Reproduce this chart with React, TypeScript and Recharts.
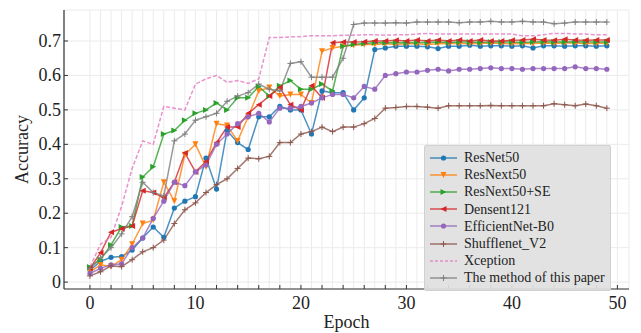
import React from 'react';
import { LineChart, Line, XAxis, YAxis, CartesianGrid, Legend } from 'recharts';

const epochs = Array.from({ length: 50 }, (_, i) => i);

const resnet50 = [
  0.035, 0.06, 0.072, 0.074, 0.093, 0.128, 0.16, 0.13, 0.215, 0.235,
  0.248, 0.36, 0.27, 0.44, 0.405, 0.385, 0.48, 0.48, 0.51, 0.5,
  0.5, 0.43, 0.555, 0.55, 0.55, 0.5, 0.535, 0.675, 0.68, 0.685,
  0.685, 0.685, 0.683, 0.678, 0.685, 0.685, 0.688, 0.685, 0.686, 0.686,
  0.685, 0.686, 0.68, 0.686, 0.686, 0.685, 0.686, 0.686, 0.685, 0.686,
];
const resnext50 = [
  0.03, 0.05, 0.045, 0.065, 0.11, 0.17, 0.18, 0.29, 0.235, 0.37,
  0.4, 0.335, 0.46, 0.455, 0.41, 0.48, 0.555, 0.565, 0.54, 0.545,
  0.545, 0.52, 0.67, 0.68, 0.685, 0.688, 0.69, 0.69, 0.692, 0.69,
  0.692, 0.692, 0.69, 0.692, 0.693, 0.693, 0.692, 0.693, 0.694, 0.693,
  0.692, 0.693, 0.693, 0.694, 0.693, 0.694, 0.694, 0.693, 0.693, 0.694,
];
const resnext50se = [
  0.044, 0.065, 0.108, 0.16, 0.163, 0.305, 0.335, 0.43, 0.44, 0.47,
  0.49, 0.5, 0.52, 0.5, 0.535, 0.535, 0.568, 0.54, 0.57, 0.585,
  0.56, 0.56, 0.575, 0.555, 0.685, 0.69, 0.693, 0.695, 0.695, 0.696,
  0.695, 0.696, 0.696, 0.697, 0.696, 0.697, 0.697, 0.696, 0.697, 0.697,
  0.697, 0.696, 0.697, 0.698, 0.697, 0.697, 0.698, 0.697, 0.697, 0.697,
];
const densenet121 = [
  0.04, 0.085, 0.145, 0.155, 0.163, 0.265, 0.26, 0.245, 0.29, 0.375,
  0.32, 0.35, 0.405, 0.45, 0.45, 0.49, 0.515, 0.54, 0.565, 0.515,
  0.5, 0.57, 0.535, 0.695, 0.697, 0.697, 0.698, 0.7, 0.7, 0.702,
  0.7, 0.703, 0.7, 0.703, 0.7, 0.703, 0.7, 0.703, 0.7, 0.7,
  0.702, 0.703, 0.705, 0.703, 0.702, 0.705, 0.703, 0.702, 0.703, 0.703,
];
const efficientnetB0 = [
  0.025, 0.04, 0.05, 0.053, 0.1, 0.128, 0.185, 0.235, 0.29, 0.28,
  0.32, 0.34, 0.4, 0.43, 0.46, 0.48, 0.49, 0.465, 0.505, 0.505,
  0.51, 0.52, 0.535, 0.545, 0.545, 0.535, 0.568, 0.56, 0.6, 0.605,
  0.61, 0.61, 0.615, 0.618, 0.613, 0.618, 0.618, 0.62, 0.622, 0.62,
  0.62, 0.618, 0.62, 0.62, 0.62, 0.62, 0.625, 0.62, 0.62, 0.618,
];
const shufflenetV2 = [
  0.018, 0.03, 0.047, 0.045, 0.065, 0.088, 0.1, 0.122, 0.17, 0.21,
  0.23, 0.26, 0.283, 0.3, 0.33, 0.36, 0.358, 0.365, 0.405, 0.405,
  0.43, 0.437, 0.45, 0.437, 0.45, 0.45, 0.46, 0.475, 0.505, 0.507,
  0.51, 0.51, 0.508, 0.505, 0.512, 0.512, 0.512, 0.512, 0.513, 0.512,
  0.512, 0.512, 0.512, 0.512, 0.518, 0.515, 0.512, 0.517, 0.512, 0.505,
];
const xception = [
  0.044, 0.11, 0.13, 0.22, 0.33, 0.41, 0.4, 0.51, 0.505, 0.5,
  0.575, 0.59, 0.6, 0.58, 0.585, 0.577, 0.59, 0.71, 0.71, 0.712,
  0.713, 0.715, 0.715, 0.715, 0.717, 0.717, 0.718, 0.718, 0.717, 0.718,
  0.718, 0.72, 0.722, 0.72, 0.72, 0.72, 0.72, 0.72, 0.72, 0.72,
  0.72, 0.715, 0.715, 0.718, 0.722, 0.722, 0.72, 0.72, 0.718, 0.718,
];
const ourMethod = [
  0.04, 0.07, 0.1, 0.14, 0.19, 0.29, 0.26, 0.25, 0.41, 0.43,
  0.47, 0.48, 0.49, 0.525, 0.54, 0.55, 0.575, 0.56, 0.555, 0.635,
  0.64, 0.595, 0.595, 0.595, 0.65, 0.748, 0.752, 0.752, 0.752, 0.753,
  0.752, 0.755, 0.755, 0.755, 0.755, 0.753, 0.755, 0.755, 0.757, 0.755,
  0.755, 0.757, 0.755, 0.755, 0.75, 0.752, 0.755, 0.755, 0.755, 0.755,
];

const xTicks = Array.from({ length: 51 }, (_, i) => i);
const yTicks = [0, 0.1, 0.2, 0.3, 0.4, 0.5, 0.6, 0.7];

const series = [
  { key: 'resnet50', name: 'ResNet50', values: resnet50, color: '#1f77b4', marker: 'circle' },
  { key: 'resnext50', name: 'ResNext50', values: resnext50, color: '#ff7f0e', marker: 'down' },
  { key: 'resnext50se', name: 'ResNext50+SE', values: resnext50se, color: '#2ca02c', marker: 'right' },
  { key: 'densenet121', name: 'Densent121', values: densenet121, color: '#d62728', marker: 'left' },
  { key: 'efficientnet', name: 'EfficientNet-B0', values: efficientnetB0, color: '#9467bd', marker: 'circle' },
  { key: 'shufflenet', name: 'Shufflenet_V2', values: shufflenetV2, color: '#8c564b', marker: 'plus' },
  { key: 'xception', name: 'Xception', values: xception, color: '#e377c2', marker: 'none', dashed: true },
  { key: 'ours', name: 'The method of this paper', values: ourMethod, color: '#7f7f7f', marker: 'plus' },
];

const data = epochs.map((e, i) => {
  const row: Record<string, number> = { epoch: e };
  series.forEach((s) => { row[s.key] = s.values[i]; });
  return row;
});

const FONT = "'Liberation Serif', 'Times New Roman', serif";
const textStyle = { fontFamily: FONT };

function Marker({ kind, cx, cy, color }: { kind: string; cx: number; cy: number; color: string }) {
  if (kind === 'none' || cx == null || cy == null) return null;
  const s = 3;
  if (kind === 'circle') return <circle cx={cx} cy={cy} r={2.6} fill={color} />;
  if (kind === 'plus') {
    return (
      <path d={`M${cx - s},${cy}H${cx + s}M${cx},${cy - s}V${cy + s}`} stroke={color} strokeWidth={1} />
    );
  }
  let d = '';
  if (kind === 'down') d = `M${cx - s},${cy - s}L${cx + s},${cy - s}L${cx},${cy + s}Z`;
  if (kind === 'right') d = `M${cx - s},${cy - s}L${cx + s},${cy}L${cx - s},${cy + s}Z`;
  if (kind === 'left') d = `M${cx + s},${cy - s}L${cx - s},${cy}L${cx + s},${cy + s}Z`;
  return <path d={d} fill={color} />;
}

function XTick({ x, y, payload }: any) {
  const v = payload.value;
  return (
    <g>
      {v % 2 === 0 && <line x1={x} x2={x} y1={y} y2={y - 4} stroke="#333" strokeWidth={1} />}
      {v % 10 === 0 && (
        <text x={x} y={y + 20} textAnchor="middle" fontSize={18} fill="#222" style={textStyle}>
          {v}
        </text>
      )}
    </g>
  );
}

function YTick({ x, y, payload }: any) {
  const v = payload.value;
  return (
    <g>
      <line x1={x} x2={x + 4} y1={y} y2={y} stroke="#333" strokeWidth={1} />
      <text x={x - 3} y={y + 6} textAnchor="end" fontSize={18} fill="#222" style={textStyle}>
        {v === 0 ? '0' : v.toFixed(1)}
      </text>
    </g>
  );
}

function LegendBox() {
  return (
    <div
      style={{
        background: 'rgba(224,224,224,0.92)',
        border: '1px solid #d0d0d0',
        borderRadius: 2,
        padding: '3px 5px 3px 3px',
        fontFamily: FONT,
        fontSize: 14,
        color: '#222',
        lineHeight: '17.2px',
      }}
    >
      {series.map((s) => (
        <div key={s.key} style={{ display: 'flex', alignItems: 'center', whiteSpace: 'nowrap' }}>
          <svg width={30} height={12} style={{ marginRight: 6 }}>
            <line
              x1={2}
              x2={29}
              y1={6}
              y2={6}
              stroke={s.color}
              strokeOpacity={0.8}
              strokeWidth={1.5}
              strokeDasharray={s.dashed ? '3 2' : undefined}
            />
            <Marker kind={s.marker} cx={15.5} cy={6} color={s.color} />
          </svg>
          <span>{s.name}</span>
        </div>
      ))}
    </div>
  );
}

export default function App() {
  return (
    <div style={{ position: 'absolute', left: 0, top: 0, background: '#fff' }}>
      <LineChart
        width={641}
        height={333}
        data={data}
        margin={{ top: 10, right: 12, left: 0, bottom: 0 }}
        style={{ fontFamily: FONT }}
      >
        <CartesianGrid stroke="#ebebeb" strokeWidth={1} />
        <XAxis
          dataKey="epoch"
          type="number"
          domain={[-2.46, 51.1]}
          ticks={xTicks}
          interval={0}
          height={44}
          tickSize={0}
          tickMargin={0}
          tickLine={false}
          axisLine={{ stroke: '#333', strokeWidth: 1.2 }}
          tick={<XTick />}
          allowDataOverflow
          label={{ value: 'Epoch', position: 'insideBottom', offset: 5, fontSize: 18, fill: '#222', style: textStyle }}
        />
        <XAxis
          xAxisId="top"
          orientation="top"
          dataKey="epoch"
          type="number"
          domain={[-2.46, 51.1]}
          height={0}
          tick={false}
          tickLine={false}
          axisLine={{ stroke: '#333', strokeWidth: 1.2 }}
        />
        <YAxis
          type="number"
          domain={[-0.02, 0.79]}
          ticks={yTicks}
          interval={0}
          width={64}
          tickSize={0}
          tickMargin={0}
          tickLine={false}
          axisLine={{ stroke: '#333', strokeWidth: 1.2 }}
          tick={<YTick />}
          allowDataOverflow
          label={{
            value: 'Accuracy',
            angle: -90,
            position: 'insideLeft',
            offset: 22,
            fontSize: 18,
            fill: '#222',
            style: { textAnchor: 'middle', fontFamily: FONT },
          }}
        />
        <YAxis
          yAxisId="right"
          orientation="right"
          domain={[-0.02, 0.79]}
          width={0}
          tick={false}
          tickLine={false}
          axisLine={{ stroke: '#333', strokeWidth: 1.2 }}
        />
        {series.map((s) => (
          <Line
            key={s.key}
            dataKey={s.key}
            name={s.name}
            type="linear"
            stroke={s.color}
            strokeOpacity={0.8}
            strokeWidth={1.5}
            strokeDasharray={s.dashed ? '4 2' : undefined}
            dot={(p: any) => <Marker key={p.index} kind={s.marker} cx={p.cx} cy={p.cy} color={s.color} />}
            activeDot={false}
            isAnimationActive={false}
          />
        ))}
        <Legend
          layout="vertical"
          align="center"
          verticalAlign="middle"
          content={<LegendBox />}
          wrapperStyle={{ left: 424, top: 145, width: 'auto', height: 'auto' }}
        />
      </LineChart>
    </div>
  );
}
